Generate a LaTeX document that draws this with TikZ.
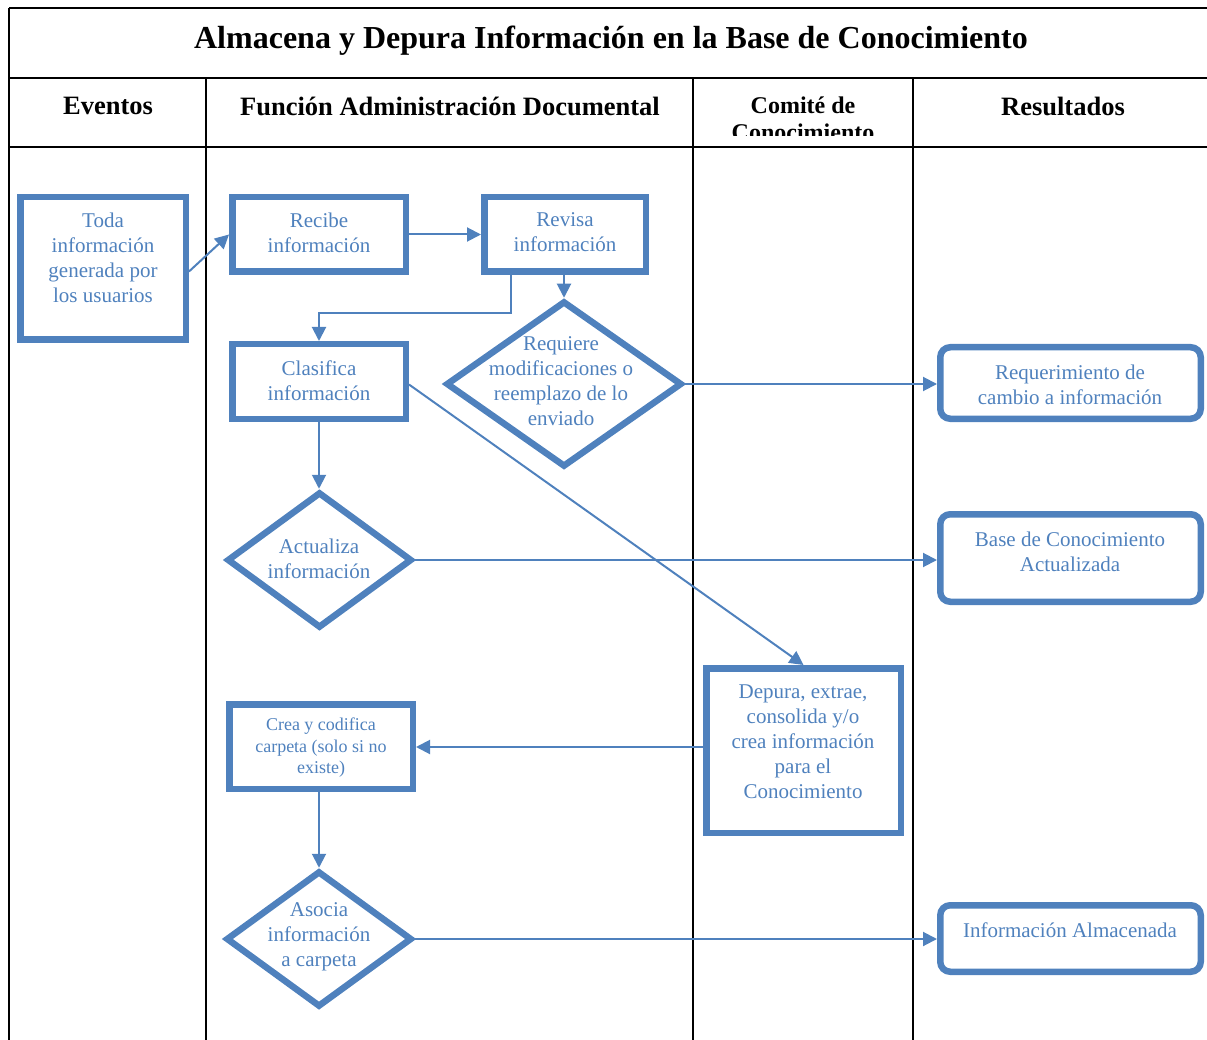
\documentclass[tikz,border=0pt]{standalone}
\usepackage{fontspec}
\setmainfont{Liberation Serif}
\usetikzlibrary{arrows.meta,shapes.geometric}
\definecolor{bl}{HTML}{4F81BD}
\tikzset{
  grid/.style={line width=2pt,draw=black},
  proc/.style={draw=bl,line width=6.5pt,rectangle,inner sep=0pt},
  res/.style={draw=bl,line width=6.5pt,rectangle,rounded corners=10pt,inner sep=0pt},
  dec/.style={draw=bl,line width=6.5pt,diamond,inner sep=0pt},
  txt/.style={text=bl,align=center,font=\fontsize{21}{25}\selectfont,inner sep=0pt},
  smalltxt/.style={text=bl,align=center,font=\fontsize{18}{21.5}\selectfont,inner sep=0pt},
  head/.style={align=center,font=\bfseries\fontsize{26.5}{29}\selectfont,inner sep=0pt},
  smallhead/.style={align=center,font=\bfseries\fontsize{24}{27}\selectfont,inner sep=0pt},
  ttl/.style={font=\bfseries\fontsize{32}{36}\selectfont,inner sep=0pt},
  conn/.style={draw=bl,line width=2pt,-{Triangle[length=14pt,width=14pt]}},
}
\begin{document}
\begin{tikzpicture}[x=1pt,y=-1pt]
\useasboundingbox (0,0) rectangle (1207,1040);
% table
\draw[grid] (9,8) -- (1207,8);
\draw[grid] (9,8) -- (9,1040);
\draw[grid] (9,78) -- (1207,78);
\draw[grid] (9,147) -- (1207,147);
\draw[grid] (206,78) -- (206,1040);
\draw[grid] (693,78) -- (693,1040);
\draw[grid] (913,78) -- (913,1040);
% headings
\node[ttl] (title) at (611,41) {Almacena y Depura Información en la Base de Conocimiento};
\node[head] (h1) at (108,106) {Eventos};
\node[head] (h2) at (450,106) {Función Administración Documental};
\node[head] (h4) at (1063,106) {Resultados};
\begin{scope}
\clip (693,78) rectangle (913,135.5);
\node[smallhead] (h3) at (803,118.5) {Comité de\\Conocimiento};
\end{scope}
% shapes
\node[proc,minimum width=165.5pt,minimum height=142.5pt] (toda) at (103,268.5) {};
\node[proc,minimum width=173.5pt,minimum height=74.5pt] (recibe) at (319,234.5) {};
\node[proc,minimum width=161.5pt,minimum height=74.5pt] (revisa) at (565,234.5) {};
\node[dec,minimum width=236pt,minimum height=166pt] (requiere) at (564,384) {};
\node[proc,minimum width=173.5pt,minimum height=74.5pt] (clasifica) at (319,381.5) {};
\node[dec,minimum width=185pt,minimum height=136pt] (actualiza) at (319.5,560) {};
\node[proc,minimum width=183.5pt,minimum height=84.5pt] (crea) at (321,746.5) {};
\node[dec,minimum width=186pt,minimum height=136pt] (asocia) at (319,939) {};
\node[proc,minimum width=194.5pt,minimum height=164.5pt] (depura) at (803.5,750.5) {};
\node[res,minimum width=260.5pt,minimum height=71.5pt] (reqcambio) at (1070.5,383) {};
\node[res,minimum width=260.5pt,minimum height=87.5pt] (base) at (1070.5,558) {};
\node[res,minimum width=260.5pt,minimum height=66.5pt] (almac) at (1070.5,938.5) {};
% texts
\node[txt] (t-toda) at (103,257.5) {Toda\\información\\generada por\\los usuarios};
\node[txt] (t-recibe) at (319,232.5) {Recibe\\información};
\node[txt] (t-revisa) at (565,232.5) {Revisa\\información};
\node[txt] (t-requiere) at (561,381.5) {Requiere\\modificaciones o\\reemplazo de lo\\enviado};
\node[txt] (t-clasifica) at (319,380.5) {Clasifica\\información};
\node[txt] (t-actualiza) at (319,558.5) {Actualiza\\información};
\node[smalltxt] (t-crea) at (321,748) {Crea y codifica\\carpeta (solo si no\\existe)};
\node[txt] (t-asocia) at (319,936.5) {Asocia\\información\\a carpeta};
\node[txt] (t-depura) at (803,741.5) {Depura, extrae,\\consolida y/o\\crea información\\para el\\Conocimiento};
\node[txt] (t-reqcambio) at (1070,384.5) {Requerimiento de\\cambio a información};
\node[txt] (t-base) at (1070,552) {Base de Conocimiento\\Actualizada};
\node[txt] (t-almac) at (1070,930.5) {Información Almacenada};
% connectors
\draw[conn] ([yshift=-3pt]toda.east) -- (recibe.west);
\draw[conn] (recibe.east) -- (revisa.west);
\draw[conn] (revisa.south -| requiere.north) -- (requiere.north);
\draw[conn] ([xshift=-54pt]revisa.south) -- ++(0,38) -| (clasifica.north);
\draw[conn] ([yshift=-3pt]clasifica.east) -- (depura.north);
\draw[conn] (clasifica.south) -- (clasifica.south |- actualiza.north);
\draw[conn] (requiere.east) -- (requiere.east -| reqcambio.west);
\draw[conn] (actualiza.east) -- (actualiza.east -| base.west);
\draw[conn] ([yshift=3.5pt]depura.west) -- ([yshift=3.5pt]depura.west -| crea.east);
\draw[conn] (crea.south -| asocia.north) -- (asocia.north);
\draw[conn] (asocia.east) -- (asocia.east -| almac.west);
\end{tikzpicture}
\end{document}
